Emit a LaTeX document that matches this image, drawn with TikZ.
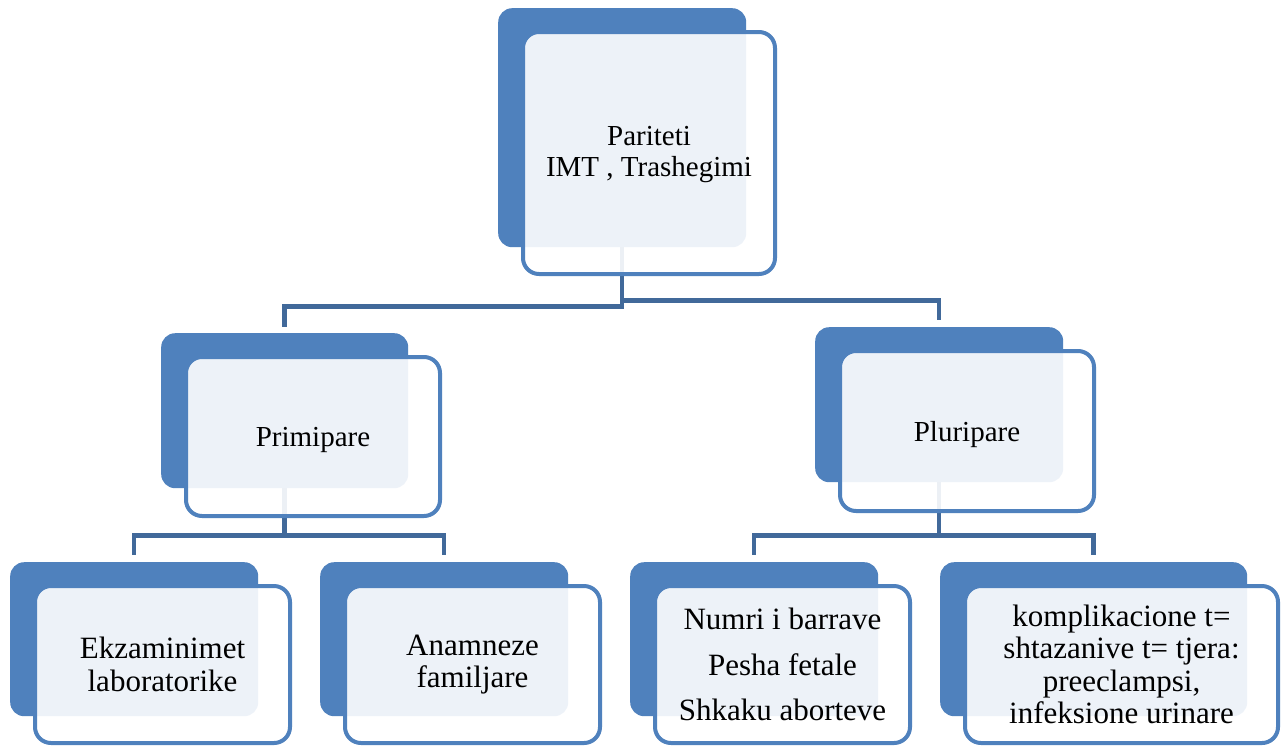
\documentclass[tikz,border=0pt]{standalone}
\usepackage{fontspec}
\setmainfont{Liberation Serif}
\usepackage{xcolor}
\usetikzlibrary{positioning}
\usetikzlibrary{backgrounds}
\definecolor{boxblue}{RGB}{79,129,189}
\definecolor{linkblue}{RGB}{65,105,154}
\newcommand{\nestedbox}[9]{ % Takes name, back box x, back box y (top left), back width, back height, front width, front height, extra style, text as arguments
    \node [backbox, minimum width=#4, minimum height=#5] (#1B) at (#2, #3) {};
    \node [frontbox, minimum width=#6, minimum height=#7, #8] (#1) at (#2+23, #3+22) {#9};
}

\begin{document}
\begin{tikzpicture}[x=1pt, y=-1pt,
    backbox/.style={fill=boxblue, rounded corners=14pt, anchor=north west, inner sep=0pt},
    frontbox/.style={draw=boxblue, line width=4pt, fill=white, fill opacity=0.9, text opacity=1,
        rounded corners=16pt, anchor=north west, align=center, font=\fontsize{29}{31}\selectfont},
    leaf/.style={font=\fontsize{31}{32.5}\selectfont},
    link/.style={draw=linkblue, line width=4.5pt}]
                \useasboundingbox (0,0) rectangle (1281,745);

                % Boxes
                \nestedbox{top}{498}{8}{248}{239}{252}{242}{text depth=4pt}{Pariteti\\ IMT , Trashegimi}
                \nestedbox{prim}{161}{333}{247}{155}{254}{159}{text depth=0pt}{Primipare}
                \nestedbox{plu}{815}{327}{248}{155}{254}{160}{text depth=0pt}{Pluripare}
                \nestedbox{ekz}{10}{562}{248}{154}{255}{157}{leaf}{Ekzaminimet\\ laboratorike}
                \nestedbox{ana}{320}{562}{248}{154}{255}{157}{leaf}{Anamneze\\ familjare}
                \nestedbox{num}{630}{562}{248}{154}{255}{157}{leaf}{Numri i barrave\\[13pt] Pesha fetale\\[13pt] Shkaku aborteve}
                \nestedbox{kom}{940}{562}{307}{154}{313}{157}{leaf}{komplikacione t=\\ shtazanive t= tjera:\\ preeclampsi,\\ infeksione urinare}

                % Connectors
                \begin{scope}[on background layer]
                \fill[white] (0,0) rectangle (1281,745);
                \draw[link] (topB.south) -- ++(0,59) -| ([yshift=6pt]primB.north);
                \draw[link] (topB.south) -- ++(0,53) -| ([yshift=7pt]pluB.north);
                \draw[link] (primB.south) -- ++(0,47) -| ([yshift=7pt]ekzB.north);
                \draw[link] (primB.south) -- ++(0,47) -| ([yshift=7pt]anaB.north);
                \draw[link] (pluB.south) -- ++(0,53) -| ([yshift=7pt]numB.north);
                \draw[link] (pluB.south) -- ++(0,53) -| ([yshift=7pt]komB.north);
                \end{scope}
            \end{tikzpicture}
\end{document}
